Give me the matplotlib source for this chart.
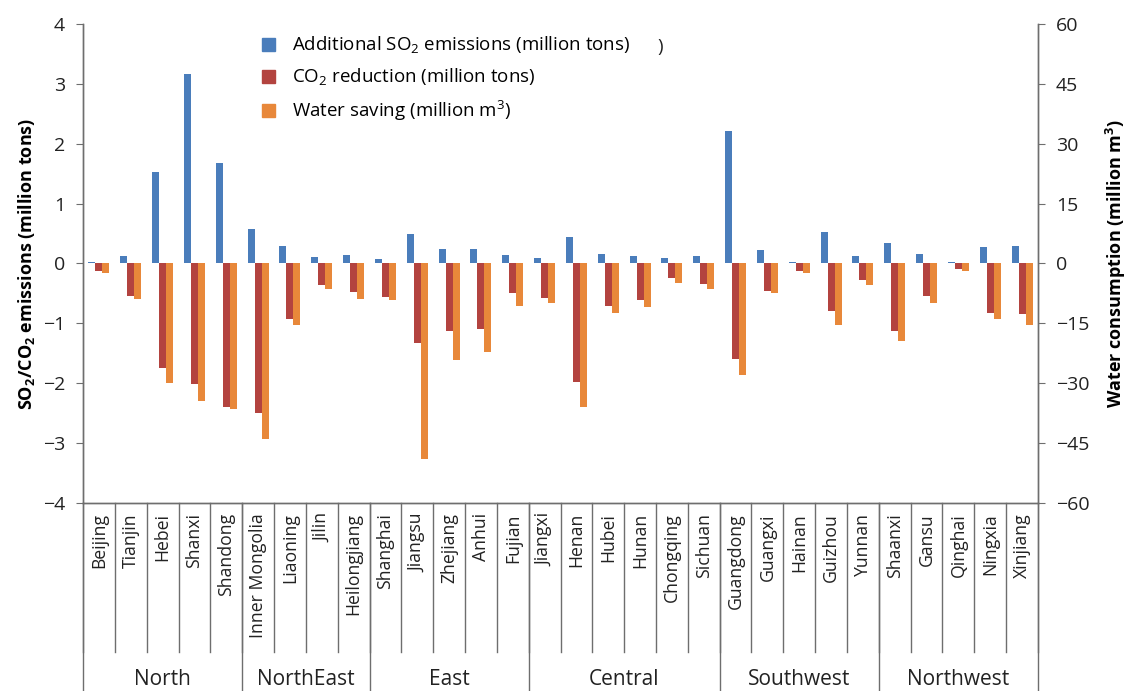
import numpy as np
import matplotlib
matplotlib.use("Agg")
import matplotlib.pyplot as plt
import matplotlib.patches as mpatches

plt.rcParams['font.family'] = ['Open Sans', 'DejaVu Sans']
plt.rcParams['mathtext.fontset'] = 'custom'
plt.rcParams['mathtext.rm'] = 'Open Sans'
plt.rcParams['mathtext.bf'] = 'Open Sans:bold'

# DATA
provinces = ["Beijing", "Tianjin", "Hebei", "Shanxi", "Shandong",
             "Inner Mongolia", "Liaoning", "Jilin", "Heilongjiang",
             "Shanghai", "Jiangsu", "Zhejiang", "Anhui", "Fujian",
             "Jiangxi", "Henan", "Hubei", "Hunan", "Chongqing", "Sichuan",
             "Guangdong", "Guangxi", "Hainan", "Guizhou", "Yunnan",
             "Shaanxi", "Gansu", "Qinghai", "Ningxia", "Xinjiang"]
regions = ["North", "NorthEast", "East", "Central", "Southwest", "Northwest"]
region_sizes = [5, 4, 5, 6, 5, 5]

so2_add = [0.03, 0.12, 1.52, 3.16, 1.68,
           0.57, 0.29, 0.10, 0.14,
           0.08, 0.50, 0.24, 0.24, 0.14,
           0.09, 0.45, 0.15, 0.13, 0.09, 0.13,
           2.21, 0.23, 0.02, 0.52, 0.13,
           0.34, 0.16, 0.02, 0.27, 0.29]
co2_red = [-0.12, -0.54, -1.75, -2.01, -2.39,
           -2.50, -0.92, -0.36, -0.48,
           -0.56, -1.32, -1.13, -1.09, -0.50,
           -0.58, -1.98, -0.71, -0.61, -0.25, -0.35,
           -1.59, -0.46, -0.13, -0.79, -0.28,
           -1.12, -0.54, -0.10, -0.83, -0.84]
water_save = [-2.3, -8.9, -29.9, -34.5, -36.5,
              -44.0, -15.5, -6.5, -8.9,
              -9.2, -48.9, -24.2, -22.2, -10.7,
              -10.0, -36.0, -12.5, -11.0, -4.8, -6.5,
              -27.9, -7.5, -2.5, -15.3, -5.3,
              -19.5, -9.9, -1.8, -13.8, -15.3]

c_blue = "#4A7DBB"
c_red = "#B3433F"
c_orange = "#E8883A"
c_axis = "#6E6E6E"
c_text = "#222222"

fig = plt.figure(figsize=(11.36, 6.91), dpi=100)
ax = fig.add_axes([0.0731, 0.2721, 0.9137 - 0.0731, 0.9653 - 0.2721])
ax2 = ax.twinx()

x = np.arange(len(provinces)) + 0.5
w = 0.22
ax.bar(x - w, so2_add, w, color=c_blue)
ax.bar(x, co2_red, w, color=c_red)
ax2.bar(x + w, water_save, w, color=c_orange)

ax.set_xlim(0, len(provinces))
ax.set_ylim(-4, 4)
ax2.set_ylim(-60, 60)
ax.set_yticks(np.arange(-4, 5, 1))
ax2.set_yticks(np.arange(-60, 61, 15))
ax.set_xticks([])

for a in (ax, ax2):
    a.spines['top'].set_visible(False)
    for s in ('left', 'right', 'bottom'):
        a.spines[s].set_color(c_axis)
        a.spines[s].set_linewidth(1.0)
    a.tick_params(axis='y', labelsize=14, length=5, color=c_axis, pad=8,
                  labelcolor=c_text)

ax.set_ylabel(r"SO$_\mathbf{2}$/CO$_\mathbf{2}$ emissions (million tons)",
              fontsize=13, fontweight='bold', labelpad=4)
ax2.set_ylabel(r"Water consumption (million m$^\mathbf{3}$)",
               fontsize=13, fontweight='bold', labelpad=10)

# category labels and separators below the axis
trans = ax.get_xaxis_transform()
for i, name in enumerate(provinces):
    ax.text(x[i], -0.021, name, rotation=90, ha='center', va='top',
            fontsize=12.7, transform=trans, color=c_text)
for b in range(len(provinces) + 1):
    ax.plot([b, b], [0, -0.311], transform=trans, color=c_axis, lw=1.0,
            clip_on=False)

bounds = np.concatenate([[0], np.cumsum(region_sizes)])
for b in bounds:
    ax.plot([b, b], [0, -0.40], transform=trans, color=c_axis, lw=1.0,
            clip_on=False)
for k, name in enumerate(regions):
    ax.text((bounds[k] + bounds[k + 1]) / 2, -0.368, name, ha='center',
            va='center', fontsize=15, transform=trans, color=c_text)

# legend
handles = [mpatches.Patch(color=c_blue,
                          label=r"Additional SO$_2$ emissions (million tons)"),
           mpatches.Patch(color=c_red, label=r"CO$_2$ reduction (million tons)"),
           mpatches.Patch(color=c_orange, label=r"Water saving (million m$^3$)")]
leg = ax.legend(handles=handles, loc='upper left', bbox_to_anchor=(0.17, 1.012),
                frameon=False, fontsize=13.5, handlelength=0.7, handleheight=0.7,
                handletextpad=0.9, labelspacing=0.55)
ax.text(0.602, 0.952, ")", transform=ax.transAxes, fontsize=13.5,
        ha='left', va='center', color=c_text)

fig.savefig("out.png", dpi=100)
